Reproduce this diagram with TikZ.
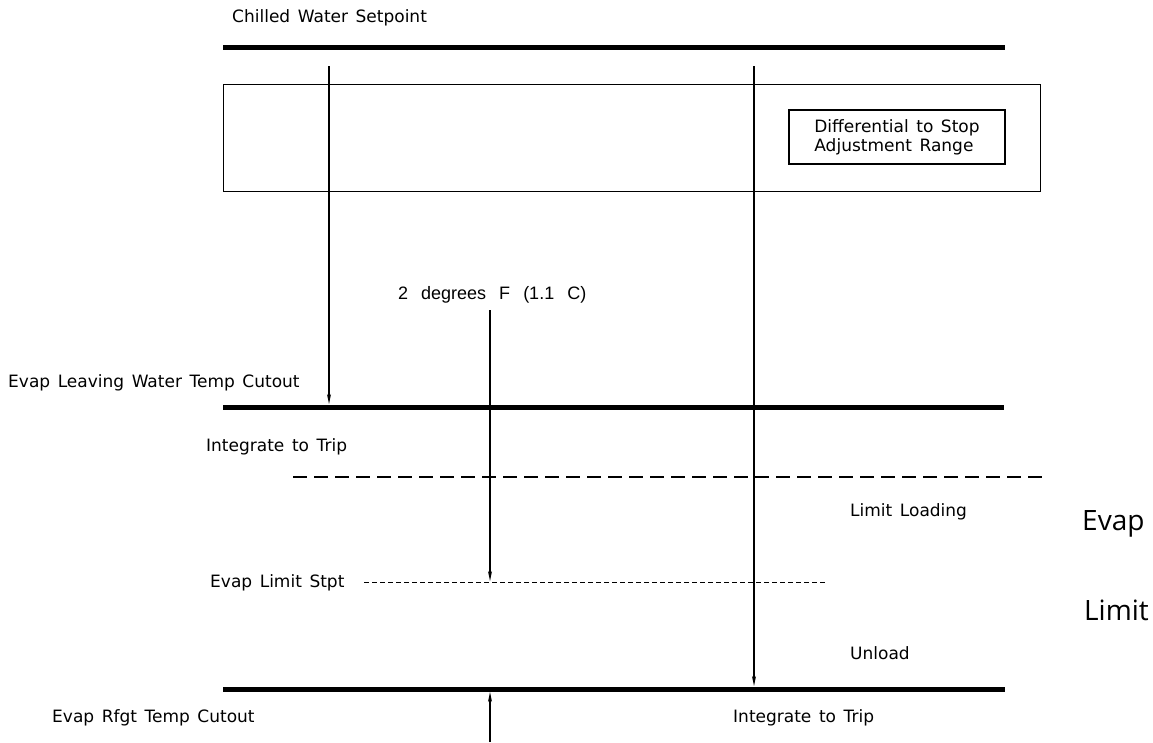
\documentclass[tikz,border=0pt]{standalone}
\usepackage{fontspec}
\setmainfont{DejaVu Sans}[WordSpace=1.4]
\newfontfamily\helv{Liberation Sans}[WordSpace=2.6]
\newfontfamily\thinfont{Open Sans}
\usetikzlibrary{arrows.meta}
\begin{document}
\begin{tikzpicture}[x=1pt,y=-1pt,
  thickline/.style={line width=5pt},
  thinline/.style={line width=1.3pt},
  lbl/.style={font=\fontsize{17}{19}\selectfont, inner sep=0pt},
  hlbl/.style={font=\helv\fontsize{18}{19}\selectfont, inner sep=0pt},
  bigl/.style={font=\thinfont\fontsize{28}{30}\selectfont, inner sep=0pt},
  arr/.style={-{Stealth[length=10pt,width=4pt]}, line width=1.3pt},
  longdash/.style={line width=1.4pt, dash pattern=on 14pt off 7pt},
  shortdash/.style={line width=1pt, dash pattern=on 5pt off 3pt}]
\useasboundingbox (0,0) rectangle (1153,742);
% top setpoint line
\node[lbl,anchor=west] (cws) at (232,18) {Chilled Water Setpoint};
\coordinate (t1) at (223,47);
\coordinate (t2) at (1005,47);
\draw[thickline] (t1) -- (t2);
% adjustment band
\node[draw, thinline, minimum width=817pt, minimum height=107pt, inner sep=0pt, anchor=north west] (band) at (223,84) {};
\node[draw, thinline, lbl, minimum width=216pt, minimum height=54pt, align=left] (diff) at (897,137) {Differential to Stop\\Adjustment Range};
% cutout line
\node[lbl,anchor=west] (elw) at (8,383) {Evap Leaving Water Temp Cutout};
\coordinate (c1) at (223,407);
\coordinate (c2) at (1004,407);
\draw[thickline] (c1) -- (c2);
% vertical arrows
\coordinate (a1s) at (329,66);
\coordinate (a1e) at (329,404);
\draw[arr] (a1s) -- (a1e);
\coordinate (a2s) at (754,66);
\coordinate (a2e) at (754,686);
\draw[arr] (a2s) -- (a2e);
% 2 degrees
\node[hlbl,anchor=west] (deg) at (398,295) {2 degrees F (1.1 C)};
\coordinate (a3s) at (490,310);
\coordinate (a3e) at (490,581);
\draw[arr] (a3s) -- (a3e);
% integrate to trip / dashed
\node[lbl,anchor=west] (itt1) at (206,447) {Integrate to Trip};
\coordinate (d1) at (293,477);
\coordinate (d2) at (1042,477);
\draw[longdash] (d1) -- (d2);
\node[lbl,anchor=west] (ll) at (850,512) {Limit Loading};
\node[bigl,anchor=west] (evap) at (1082,524) {Evap};
% limit setpoint
\node[lbl,anchor=west] (els) at (210,583) {Evap Limit Stpt};
\coordinate (s1) at (364,582);
\coordinate (s2) at (827,582);
\draw[shortdash] (s1) -- (s2);
\node[bigl,anchor=west] (limit) at (1084,610) {Limit};
\node[lbl,anchor=west] (unl) at (850,653) {Unload};
% bottom line
\coordinate (b1) at (223,689);
\coordinate (b2) at (1005,689);
\draw[thickline] (b1) -- (b2);
\node[lbl,anchor=west] (ert) at (52,718) {Evap Rfgt Temp Cutout};
\node[lbl,anchor=west] (itt2) at (733,718) {Integrate to Trip};
\coordinate (u1) at (490,742);
\coordinate (u2) at (490,692);
\draw[arr] (u1) -- (u2);
\end{tikzpicture}
\end{document}
